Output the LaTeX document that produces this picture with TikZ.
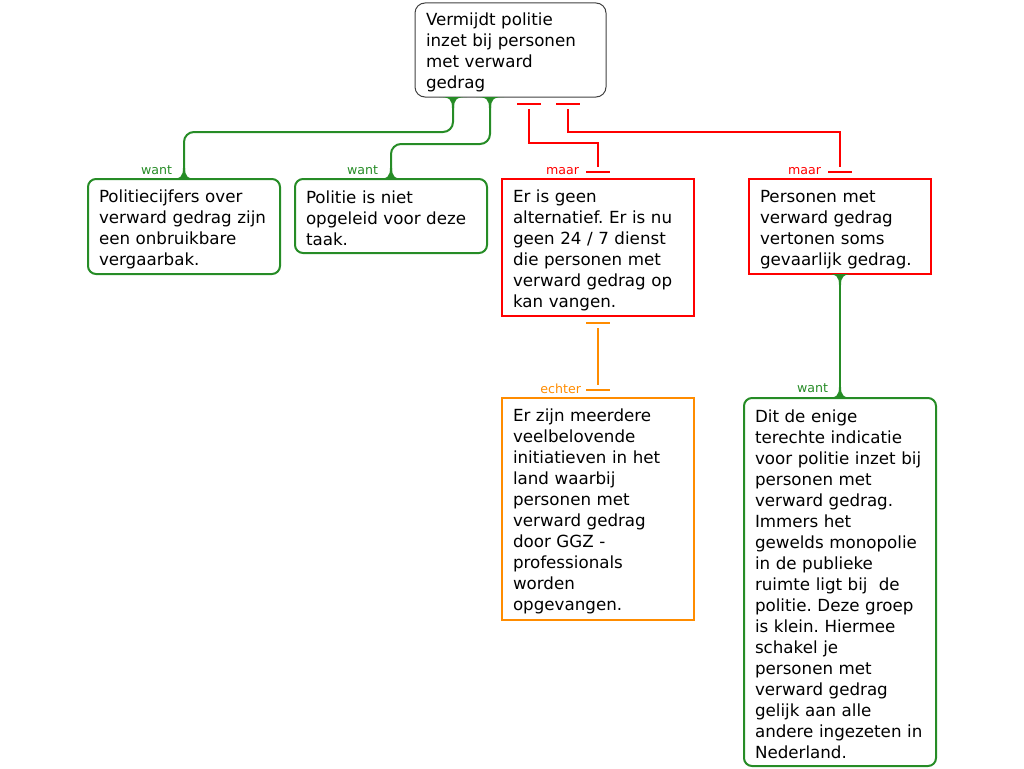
\documentclass[tikz,border=0pt]{standalone}
\usepackage{fontspec}
\setmainfont{DejaVu Sans}
\usetikzlibrary{positioning}
\definecolor{wantgreen}{RGB}{38,140,38}
\definecolor{maarred}{RGB}{255,0,0}
\definecolor{echterorange}{RGB}{255,140,0}
\newcommand\boxtext{\fontsize{16.7}{21}\selectfont}
\newcommand\tagtext{\fontsize{12.6}{14}\selectfont}
\tikzset{every picture/.style={line width=2pt}}
\tikzset{
  argbox/.style={draw, anchor=north west, align=left, text width=170pt, inner xsep=11pt, inner ysep=4pt, outer sep=0pt, font=\boxtext, execute at begin node={\rule{0pt}{18pt}}},
  claim/.style={argbox, draw=black!75, line width=1pt, rounded corners=10pt, text width=169pt},
  reason/.style={argbox, draw=wantgreen, rounded corners=8pt},
  objection/.style={argbox, draw=maarred},
  rebuttal/.style={argbox, draw=echterorange},
  wantline/.style={draw=wantgreen, rounded corners=10pt},
  maarline/.style={draw=maarred},
  echterline/.style={draw=echterorange},
  tag/.style={font=\tagtext, anchor=east, inner sep=0pt},
  flare/.pic={\fill (-14,0) .. controls (-3,0) and (-1,3) .. (-1,11) -- (1,11) .. controls (1,3) and (3,0) .. (14,0) -- cycle;}
}

\begin{document}
\frenchspacing
\begin{tikzpicture}[x=1pt, y=-1pt]
    \useasboundingbox (0,0) rectangle (1024,768);

    \node[claim, minimum height=94pt] (claim) at (415,3) {Vermijdt politie\\inzet bij personen\\met verward\\gedrag};
    \node[reason, minimum height=95pt] (cijfers) at (88,179) {Politiecijfers over\\verward gedrag zijn\\een onbruikbare\\vergaarbak.};
    \node[reason, minimum height=74pt, right=15pt of cijfers.north east, anchor=north west] (opgeleid) {Politie is niet\\opgeleid voor deze\\taak.};
    \node[objection, minimum height=137pt, right=15pt of opgeleid.north east, anchor=north west] (alternatief) {Er is geen\\alternatief. Er is nu\\geen 24 / 7 dienst\\die personen met\\verward gedrag op\\kan vangen.};
    \node[objection, text width=160pt, minimum height=95pt, right=55pt of alternatief.north east, anchor=north west] (gevaarlijk) {Personen met\\verward gedrag\\vertonen soms\\gevaarlijk gedrag.};
    \node[rebuttal, minimum height=222pt, below=82pt of alternatief.south west, anchor=north west] (initiatieven) {Er zijn meerdere\\veelbelovende\\initiatieven in het\\land waarbij\\personen met\\verward gedrag\\door GGZ -\\professionals\\worden\\opgevangen.};
    \node[reason, minimum height=368pt, below=124pt of gevaarlijk.south, anchor=north] (indicatie) {Dit de enige\\terechte indicatie\\voor politie inzet bij\\personen met\\verward gedrag.\\Immers het\\gewelds monopolie\\in de publieke\\ruimte ligt bij\ \ de\\politie. Deze groep\\is klein. Hiermee\\schakel je\\personen met\\verward gedrag\\gelijk aan alle\\andere ingezeten in\\Nederland.};

    % want
    \draw[wantline] ([xshift=38pt]claim.south west) |- ([yshift=47pt]cijfers.north) -- (cijfers.north);
    \draw[wantline] ([xshift=75pt]claim.south west) |- ([yshift=35pt]opgeleid.north) -- (opgeleid.north);
    \draw[wantline] (gevaarlijk.south) -- (indicatie.north);
    \pic[fill=wantgreen] at ([xshift=38pt]claim.south west) {flare};
    \pic[fill=wantgreen] at ([xshift=75pt]claim.south west) {flare};
    \pic[fill=wantgreen] at (gevaarlijk.south) {flare};
    \pic[fill=wantgreen, yscale=-1] at (cijfers.north) {flare};
    \pic[fill=wantgreen, yscale=-1] at (opgeleid.north) {flare};
    \pic[fill=wantgreen, yscale=-1] at (indicatie.north) {flare};
    \node[tag, text=wantgreen] (want1) at ([xshift=-11pt, yshift=9pt]cijfers.north) {want};
    \node[tag, text=wantgreen] (want2) at ([xshift=-12pt, yshift=9pt]opgeleid.north) {want};
    \node[tag, text=wantgreen] (want3) at ([xshift=-11pt, yshift=10pt]indicatie.north) {want};

    % maar
    \draw[maarline] ([xshift=114pt, yshift=-12pt]claim.south west) |- ([yshift=36pt]alternatief.north) -- ([yshift=12pt]alternatief.north);
    \draw[maarline] ([xshift=153pt, yshift=-12pt]claim.south west) |- ([yshift=47pt]gevaarlijk.north) -- ([yshift=12pt]gevaarlijk.north);
    \draw[maarline] ([xshift=102pt, yshift=-7pt]claim.south west) -- ++(24,0);
    \draw[maarline] ([xshift=141pt, yshift=-7pt]claim.south west) -- ++(24,0);
    \draw[maarline] ([xshift=-12pt, yshift=7pt]alternatief.north) -- ++(24,0);
    \draw[maarline] ([xshift=-12pt, yshift=7pt]gevaarlijk.north) -- ++(24,0);
    \node[tag, text=maarred] (maar1) at ([xshift=-18pt, yshift=8pt]alternatief.north) {maar};
    \node[tag, text=maarred] (maar2) at ([xshift=-18pt, yshift=8pt]gevaarlijk.north) {maar};

    % echter
    \draw[echterline] ([yshift=-12pt]alternatief.south) -- ([yshift=13pt]initiatieven.north);
    \draw[echterline] ([xshift=-12pt, yshift=-7pt]alternatief.south) -- ++(24,0);
    \draw[echterline] ([xshift=-12pt, yshift=8pt]initiatieven.north) -- ++(24,0);
    \node[tag, text=echterorange] (echter1) at ([xshift=-16pt, yshift=9pt]initiatieven.north) {echter};
\end{tikzpicture}
\end{document}
